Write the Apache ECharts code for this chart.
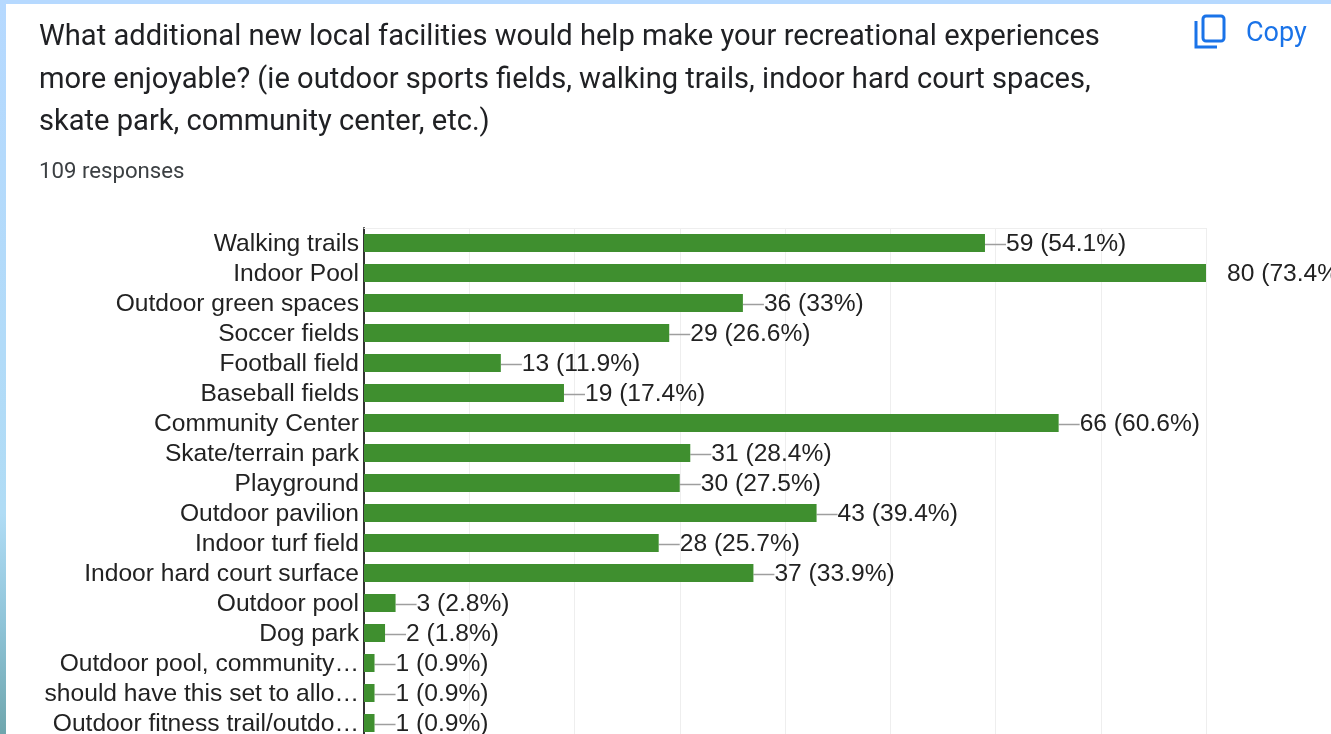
<!DOCTYPE html>
<html>
<head>
<meta charset="utf-8">
<title>Recreational facilities</title>
<script src="https://cdn.jsdelivr.net/npm/echarts@6/dist/echarts.min.js"></script>
<style>
  html, body { margin: 0; padding: 0; background: #fff; overflow: hidden; }
  #visualisation { width: 1331px; height: 734px; }
</style>
</head>
<body>
<div id="visualisation"></div>
<script>
const questionText = 'What additional new local facilities would help make your recreational experiences\nmore enjoyable? (ie outdoor sports fields, walking trails, indoor hard court spaces,\nskate park, community center, etc.)';
const responsesText = '109 responses';
const categories = [
    'Walking trails', 'Indoor Pool', 'Outdoor green spaces', 'Soccer fields', 'Football field',
    'Baseball fields', 'Community Center', 'Skate/terrain park', 'Playground', 'Outdoor pavilion',
    'Indoor turf field', 'Indoor hard court surface', 'Outdoor pool', 'Dog park',
    'Outdoor pool, community…', 'should have this set to allo…', 'Outdoor fitness trail/outdo…'
];
const counts = [59, 80, 36, 29, 13, 19, 66, 31, 30, 43, 28, 37, 3, 2, 1, 1, 1];
const percents = ['54.1', '73.4', '33', '26.6', '11.9', '17.4', '60.6', '28.4', '27.5', '39.4', '25.7', '33.9', '2.8', '1.8', '0.9', '0.9', '0.9'];

function drawVisualisation() {
    let visualisation = echarts.init(document.getElementById('visualisation'));

    // De balk met de hoogste waarde heeft geen lijntje naar het label.
    let barData = counts.map((value, i) => ({
        value: value,
        labelLine: { show: value !== Math.max(...counts) }
    }));

    // Tekst staat iets lager dan het midden van de rij.
    let rowText = {
        t: { color: '#222222', fontSize: 24.6, fontFamily: 'Liberation Sans', padding: [3, 0, 0, 0] }
    };

    let option = {
        animation: false,
        backgroundColor: '#fff',
        textStyle: { fontFamily: 'Liberation Sans' },
        title: [
            {
                text: questionText, left: 34, top: 11.5,
                textStyle: { fontFamily: 'Roboto', fontSize: 29.1, fontWeight: 'normal', color: '#202124', lineHeight: 42.5 }
            },
            {
                text: responsesText, left: 34, top: 156,
                textStyle: { fontFamily: 'Roboto', fontSize: 22.2, fontWeight: 'normal', color: '#3c4043' }
            },
            {
                text: 'Copy', left: 1241, top: 16,
                textStyle: { fontFamily: 'Roboto', fontSize: 27, fontWeight: 'normal', color: '#1a73e8' }
            }
        ],
        graphic: [
            { type: 'rect', shape: { x: 0, y: 0, width: 1331, height: 4 }, style: { fill: '#b6d9ff' } },
            {
                type: 'rect', shape: { x: 0, y: 0, width: 6, height: 734 },
                style: {
                    fill: new echarts.graphic.LinearGradient(0, 0, 0, 1, [
                        { offset: 0, color: '#b6d9ff' },
                        { offset: 0.7, color: '#b0dcf5' },
                        { offset: 0.85, color: '#8fc4d8' },
                        { offset: 1, color: '#6fa6ad' }
                    ])
                }
            },
            // Kopieer-icoon
            { type: 'rect', shape: { x: 1203, y: 16, width: 21, height: 25, r: 3 }, style: { fill: 'none', stroke: '#1a73e8', lineWidth: 3 } },
            { type: 'polyline', shape: { points: [[1196, 21], [1196, 47], [1217, 47]] }, style: { fill: 'none', stroke: '#1a73e8', lineWidth: 3 } }
        ],
        grid: { left: 364, top: 228, width: 842, height: 510, outerBoundsMode: 'none' },
        xAxis: {
            type: 'value', position: 'top', min: 0, max: 80, interval: 10,
            axisLine: { show: true, lineStyle: { color: '#eeeeee', width: 1 } },
            axisTick: { show: false },
            axisLabel: { show: false },
            splitLine: { show: true, lineStyle: { color: '#eeeeee', width: 1 } }
        },
        yAxis: {
            type: 'category', inverse: true, data: categories,
            axisLine: { show: true, lineStyle: { color: '#333333', width: 2 } },
            axisTick: { show: false },
            axisLabel: { margin: 5, interval: 0, formatter: '{t|{value}}', rich: rowText }
        },
        series: [{
            type: 'bar',
            data: barData,
            barWidth: 18,
            itemStyle: { color: '#3f8f2f' },
            label: {
                show: true, position: 'right', distance: 0, rich: rowText,
                formatter: p => '{t|' + counts[p.dataIndex] + ' (' + percents[p.dataIndex] + '%)}'
            },
            labelLayout: { dx: 21 },
            labelLine: { show: true, lineStyle: { color: '#9e9e9e', width: 1.5 } }
        }]
    };

    visualisation.setOption(option);
}

window.addEventListener('load', drawVisualisation);
</script>
</body>
</html>
